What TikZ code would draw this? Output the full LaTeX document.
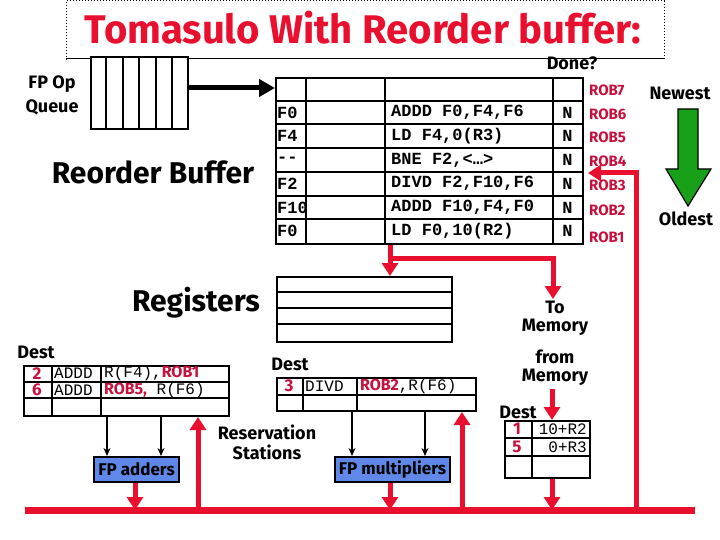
\documentclass[tikz,border=0pt]{standalone}
\usepackage{fontspec}
\setmainfont{Fira Sans}
\newfontfamily\codefont{Liberation Mono}
\usetikzlibrary{arrows.meta}
\definecolor{tred}{HTML}{E8102E}
\definecolor{robred}{HTML}{C8103C}
\definecolor{ublue}{HTML}{6088E8}
\definecolor{agreen}{HTML}{18A018}
\tikzset{
  tbl/.style={draw, line width=2pt, inner sep=0pt, anchor=north west},
  lbl/.style={font=\bfseries\fontsize{18}{19}\selectfont, inner sep=0pt},
  lbltwo/.style={font=\bfseries\fontsize{18}{18}\selectfont, inner sep=0pt, align=center},
  biglbl/.style={font=\bfseries\fontsize{30}{31}\selectfont, inner sep=0pt},
  code/.style={font=\codefont\bfseries\fontsize{17}{18}\selectfont, inner sep=0pt, anchor=west},
  rscode/.style={font=\codefont\fontsize{16}{17}\selectfont, inner sep=0pt, anchor=west},
  robl/.style={font=\bfseries\fontsize{15}{16}\selectfont, text=robred, inner sep=0pt, anchor=west},
  rsnum/.style={font=\bfseries\fontsize{17}{18}\selectfont, text=robred, inner sep=0pt},
  redarrow/.style={draw=tred, line width=5pt, -{Triangle[width=16pt,length=13pt]}},
  redline/.style={draw=tred, line width=5pt},
  busline/.style={draw=tred, line width=7pt},
  blkarrow/.style={draw, line width=1.5pt, -{Stealth[width=7pt,length=8pt]}},
  unit/.style={draw, line width=2pt, fill=ublue, inner sep=0pt, anchor=north west, minimum height=25pt, font=\bfseries\fontsize{17}{18}\selectfont},
}
\begin{document}
\begin{tikzpicture}[x=1pt,y=-1pt]
\useasboundingbox (0,0) rectangle (720,540);
% title frame
\draw[dotted, line width=1pt] (66,60) -- (66,1) -- (664,1) -- (664,60);
\draw[line width=1pt] (66,59) -- (664,59);
\node[font=\bfseries\fontsize{40}{42}\selectfont, text=tred, inner sep=0pt] (title) at (363,28) {Tomasulo With Reorder buffer:};

% FP op queue
\node[tbl, minimum width=97pt, minimum height=72pt, fill=white] (queue) at (90,56) {};
\foreach \x in {106,123,139,156,172} \draw[line width=2pt] (\x,56) -- (\x,128);
\node[lbltwo, font=\bfseries\fontsize{18}{24}\selectfont] (fpop) at (52,95) {FP Op\\Queue};
\node[biglbl] (roblbl) at (153,172) {Reorder Buffer};

% ROB table
\node[tbl, minimum width=307pt, minimum height=166pt] (rob) at (275,77) {};
\foreach \i in {1,...,6} \draw[line width=2pt] (275,77+23.714*\i) -- (582,77+23.714*\i);
\foreach \x in {306,385,553} \draw[line width=2pt] (\x,77) -- (\x,243);
\draw[line width=5pt, -{Triangle[width=17pt,length=16pt]}] (queue.east |- 0,88) -- (rob.west |- 0,88);
\foreach \d/\ins [count=\k] in {F0/{ADDD F0,F4,F6}, F4/{LD F4,0(R3)}, --/{BNE F2,<…>}, F2/{DIVD F2,F10,F6}, F10/{ADDD F10,F4,F0}, F0/{LD F0,10(R2)}}{
  \node[code] (d\k) at (277,77+23.714*\k+11.857) {\d};
  \node[code] (i\k) at (391,77+23.714*\k+11.857) {\ins};
  \node[code, anchor=center] (n\k) at (567.5,77+23.714*\k+11.857) {N};
}
\foreach \r/\y in {7/90,6/114,5/137,4/161,3/185,2/210,1/237}
  \node[robl] (rob\r) at (589,\y) {ROB\r};
\node[lbl] (done) at (572,63) {Done?};
\node[lbl] (newest) at (680,93) {Newest};
\node[lbl] (oldest) at (686,219) {Oldest};
\draw[line width=1.2pt, fill=agreen] (678,109) -- (698,109) -- (698,169) -- (711,169) -- (688,206) -- (666,169) -- (678,169) -- cycle;

% registers
\node[biglbl] (reglbl) at (196,303) {Registers};
\node[tbl, minimum width=175pt, minimum height=65pt] (regs) at (276,276) {};
\foreach \y in {292,308,324} \draw[line width=2pt] (276,\y) -- (451,\y);

% To memory
\node[lbltwo] (tomem) at (555,318) {To\\Memory};
\node[lbltwo] (frommem) at (555,368) {from\\Memory};

% left reservation station
\node[lbl] (dest1) at (36,352) {Dest};
\node[tbl, minimum width=205pt, minimum height=50pt] (rsadd) at (23,365) {};
\foreach \y in {382,398} \draw[line width=2pt] (23,\y) -- (228,\y);
\foreach \x in {52,101} \draw[line width=2pt] (\x,365) -- (\x,415);
\node[rsnum] (a1n) at (37,373.5) {2};
\node[rsnum] (a2n) at (37,390) {6};
\node[rscode] (a1o) at (54,373.5) {ADDD};
\node[rscode] (a2o) at (54,390) {ADDD};
\node[rscode] (a1a) at (104,373.5) {R(F4),\textcolor{robred}{\normalfont\bfseries ROB1}};
\node[rscode] (a2a) at (104,390) {\textcolor{robred}{\normalfont\bfseries ROB5,} R(F6)};

% middle reservation station
\node[lbl] (dest2) at (290,364) {Dest};
\node[tbl, minimum width=199pt, minimum height=33pt] (rsmul) at (276,377) {};
\draw[line width=2pt] (276,395) -- (475,395);
\foreach \x in {303,357} \draw[line width=2pt] (\x,377) -- (\x,410);
\node[rsnum] (m1n) at (289,386) {3};
\node[rscode] (m1o) at (305,386) {DIVD};
\node[rscode] (m1a) at (360,386) {\textcolor{robred}{\normalfont\bfseries ROB2},R(F6)};

% memory table
\node[lbl] (dest3) at (518,412) {Dest};
\node[tbl, minimum width=85pt, minimum height=57pt] (memtab) at (504,420) {};
\foreach \y in {438,456} \draw[line width=2pt] (504,\y) -- (589,\y);
\draw[line width=2pt] (532,420) -- (532,477);
\node[rsnum] (l1n) at (517,429) {1};
\node[rsnum] (l2n) at (517,447) {5};
\node[rscode, anchor=east] (l1a) at (587,429) {10+R2};
\node[rscode, anchor=east] (l2a) at (587,447) {0+R3};

% functional units
\node[unit, minimum width=85pt] (adders) at (93,456) {FP adders};
\node[unit, minimum width=115pt] (mults) at (334,456) {FP multipliers};
\node[lbltwo, font=\bfseries\fontsize{18}{20}\selectfont] (rslbl) at (267,442) {Reservation\\Stations};

% bus
\coordinate (busL) at (25,510);
\coordinate (busR) at (695,510);
\draw[busline] (busL) -- (busR);

% black arrows RS -> units
\draw[blkarrow] (rsadd.south -| 107,0) -- (adders.north -| 107,0);
\draw[blkarrow] (rsadd.south -| 161,0) -- (adders.north -| 161,0);
\draw[blkarrow] (rsmul.south -| 352,0) -- (mults.north -| 352,0);
\draw[blkarrow] (rsmul.south -| 425,0) -- (mults.north -| 425,0);

% red arrows
\draw[redarrow] (adders.south -| 135,0) -- (busL -| 135,0);
\draw[redarrow] (mults.south -| 390,0) -- (busL -| 390,0);
\draw[redarrow] (busL -| 198,0) -- (rsadd.south -| 198,0);
\draw[redarrow] (busL -| 462,0) -- (rsmul.south -| 462,0);
\draw[redarrow] (memtab.south -| 552,0) -- (busL -| 552,0);
\coordinate (fromarr) at (552,389);
\draw[redarrow] (fromarr) -- (memtab.north -| 552,0);
\coordinate (robin) at (588,173);
\draw[redarrow] (busL -| 636,0) -- (636,173) -- (robin);
\draw[redarrow] (rob.south -| 390,0) -- (regs.north -| 390,0);
\draw[redline] (390,258) -- (553,258);
\draw[redarrow] (553,255.5) -- (553,299);
\end{tikzpicture}
\end{document}
